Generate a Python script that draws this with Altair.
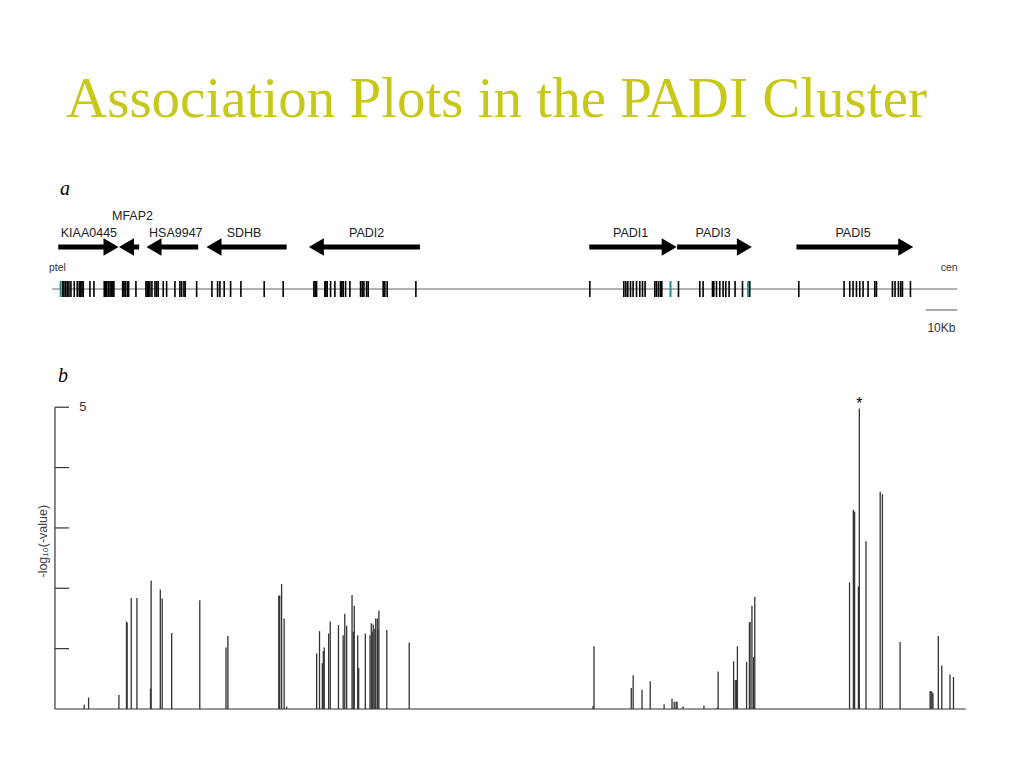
import altair as alt
import pandas as pd

# ---------------- data ----------------
# panel b: association bars (position in kb from ptel, -log10 p-value)
bar_kb = [10.2, 11.6, 21.2, 23.6, 23.8, 25.1, 26.9, 31.2, 31.4, 34.3, 34.9, 37.9, 46.8, 55.1, 55.7,
          71.8, 72.1, 72.7, 73.5, 74.3, 83.8, 84.7, 85.6, 85.9, 86.2, 87.6, 88.1, 90.7, 92.2, 92.7,
          93.3, 95.0, 95.4, 95.7, 96.8, 97.1, 99.2, 100.7, 101.1, 101.4, 101.7, 102.2, 102.5, 103.0,
          103.2, 103.5, 106.0, 113.1,
          171.3, 171.6, 183.4, 184.0, 186.8, 189.4, 193.8, 196.3, 197.0, 197.6, 197.9, 199.8, 206.4,
          210.6, 210.9, 215.8, 216.3, 216.7, 217.0, 219.9, 220.8, 221.0, 221.6, 222.1, 222.5,
          252.5, 253.7, 254.1, 255.3, 255.6, 257.7, 262.2, 262.9, 268.5, 278.0, 278.3, 278.6, 278.9,
          280.6, 281.7, 284.3, 285.4]
bar_val = [0.07, 0.19, 0.23, 1.45, 1.43, 1.84, 1.84, 0.34, 2.13, 1.98, 1.83, 1.26, 1.80, 1.02, 1.21,
           1.88, 1.88, 2.07, 1.50, 0.04, 0.92, 1.29, 0.76, 0.96, 1.02, 1.25, 1.45, 1.39, 1.22, 1.58,
           1.38, 1.89, 1.28, 1.71, 1.22, 0.68, 1.25, 1.22, 1.42, 1.28, 1.40, 1.33, 1.50, 1.50,
           1.32, 1.63, 1.31, 1.10,
           0.05, 1.04, 0.35, 0.56, 0.32, 0.46, 0.08, 0.17, 0.12, 0.12, 0.12, 0.04, 0.06,
           0.02, 0.62, 0.79, 0.48, 0.48, 1.04, 0.78, 1.44, 1.44, 1.71, 0.86, 1.86,
           2.10, 3.30, 3.27, 2.03, 4.98, 2.78, 3.60, 3.56, 1.11, 0.30, 0.30, 0.28, 0.26,
           1.21, 0.72, 0.57, 0.53]
y_ticks = [1, 2, 3, 4, 5]

# panel a: SNP positions (kb)
snp_kb = [3.39, 3.80, 4.34, 4.84, 5.38, 6.01, 7.06, 8.01, 8.64, 9.08, 9.50, 9.91, 12.03, 13.29,
          16.55, 17.0, 17.31, 17.82, 18.36, 18.77, 19.21, 19.62, 22.38, 22.79, 23.2, 23.83, 24.28,
          26.59, 29.75, 30.16, 30.61, 31.02, 31.65, 32.6, 33.14, 33.64, 35.23, 36.3, 38.93, 40.51,
          41.05, 41.78, 42.19, 45.8, 50.64, 52.44, 53.17, 54.53, 56.56, 59.82, 67.19, 73.21,
          82.92, 83.33, 83.78, 86.4, 86.72, 87.13, 88.21, 89.57, 91.37, 91.79, 92.2, 92.96, 94.32,
          97.7, 98.21, 98.75, 99.6, 100.11, 104.86, 105.39, 106.12, 115.21,
          170.28, 181.04, 181.67, 182.3, 183.16, 183.98, 185.06, 186.1, 186.96, 187.78, 190.85,
          191.39, 192.02, 192.65, 193.07, 198.35, 205.09, 206.14, 209.11, 209.52, 210.38, 211.42,
          212.47, 213.32, 214.37, 216.26, 218.61, 220.92, 236.43, 250.76, 252.57, 253.61, 254.69,
          255.73, 256.78, 258.36, 260.48, 261.02, 266.08, 266.9, 267.98, 268.71, 269.25, 271.78]
snp_teal_kb = [2.75, 195.82, 220.38]

# genes: name, start, end (kb), direction (+1 right, -1 left), label position (kb)
gene_name = ["KIAA0445", "MFAP2", "HSA9947", "SDHB", "PADI2", "PADI1", "PADI3", "PADI5"]
gene_start = [2.0, 21.3, 30.0, 49.0, 81.4, 170.1, 197.9, 235.7]
gene_end = [21.0, 27.6, 46.3, 74.3, 116.5, 197.7, 221.5, 272.6]
gene_dir = [1, -1, -1, -1, -1, 1, 1, 1]
gene_label_kb = [11.7, 25.5, 39.2, 60.8, 99.6, 183.2, 209.3, 253.6]
gene_label_row = [10.3, 12.0, 10.3, 10.3, 10.3, 10.3, 10.3, 10.3]

track_start, track_end = 0.0, 286.7
scale_bar = [276.6, 286.6]

TITLE = "Association Plots in the PADI Cluster"

# ---------------- shared settings ----------------
W = 935
xs = alt.Scale(domain=[-6, 290], nice=False, zero=False)
SANS = "Liberation Sans"
SERIF = "Liberation Serif"
HEAD = 2.3  # half arrow-head length in kb

# rows of the gene track (track units)
ROW_ARROW, ROW_SNP, ROW_SNP_TOP, ROW_SNP_BOT = 8.9, 4.7, 5.5, 3.9
ROW_END, ROW_BAR, ROW_BARLAB, ROW_A = 6.85, 2.6, 0.85, 14.7

# ---------------- panel a ----------------
ya = alt.Scale(domain=[0, 16], nice=False, zero=False)
X = lambda f: alt.X(f, scale=xs, axis=None)
YA = lambda f: alt.Y(f, scale=ya, axis=None)

genes = pd.DataFrame({"name": gene_name, "start": gene_start, "end": gene_end, "dir": gene_dir,
                      "lab": gene_label_kb, "row": gene_label_row})
genes["tip"] = [e if d > 0 else s for s, e, d in zip(gene_start, gene_end, gene_dir)]
genes["tail"] = [s if d > 0 else e for s, e, d in zip(gene_start, gene_end, gene_dir)]
genes["head"] = [t - d * HEAD for t, d in zip(genes["tip"], gene_dir)]
genes["shape"] = ["triangle-right" if d > 0 else "triangle-left" for d in gene_dir]
genes["ay"] = ROW_ARROW

base_a = alt.Chart(genes)
arrow_lines = base_a.mark_rule(color="black", strokeWidth=5).encode(
    x=X("tail:Q"), x2="head:Q", y=YA("ay:Q"))
arrow_heads = base_a.mark_point(filled=True, color="black", opacity=1, size=300).encode(
    x=X("head:Q"), y=YA("ay:Q"), shape=alt.Shape("shape:N", scale=None, legend=None))
gene_labels = base_a.mark_text(font=SANS, fontSize=12.5, color="#222", baseline="middle").encode(
    x=X("lab:Q"), y=YA("row:Q"), text="name:N")

snps = pd.DataFrame({"kb": snp_kb, "y0": ROW_SNP_BOT, "y1": ROW_SNP_TOP})
snp_ticks = alt.Chart(snps).mark_rule(color="black", strokeWidth=1.6).encode(
    x=X("kb:Q"), y=YA("y1:Q"), y2="y0:Q")
teal = pd.DataFrame({"kb": snp_teal_kb, "y0": ROW_SNP_BOT, "y1": ROW_SNP_TOP})
teal_ticks = alt.Chart(teal).mark_rule(color="#1f8f8f", strokeWidth=2).encode(
    x=X("kb:Q"), y=YA("y1:Q"), y2="y0:Q")

track = pd.DataFrame({"a": [track_start], "b": [track_end], "y": [ROW_SNP]})
track_line = alt.Chart(track).mark_rule(color="#666", strokeWidth=1).encode(
    x=X("a:Q"), x2="b:Q", y=YA("y:Q"))

sb = pd.DataFrame({"a": [scale_bar[0]], "b": [scale_bar[1]],
                   "m": [(scale_bar[0] + scale_bar[1]) / 2],
                   "y": [ROW_BAR], "ly": [ROW_BARLAB], "t": ["10Kb"]})
sb_line = alt.Chart(sb).mark_rule(color="#555", strokeWidth=1).encode(
    x=X("a:Q"), x2="b:Q", y=YA("y:Q"))
sb_text = alt.Chart(sb).mark_text(font=SANS, fontSize=12, color="#333", baseline="middle").encode(
    x=X("m:Q"), y=YA("ly:Q"), text="t:N")

ptel = alt.Chart(pd.DataFrame({"kb": [-0.95], "y": [ROW_END], "t": ["ptel"]})).mark_text(
    font=SANS, fontSize=10.5, color="#333", align="left", baseline="middle").encode(
    x=X("kb:Q"), y=YA("y:Q"), text="t:N")
cen = alt.Chart(pd.DataFrame({"kb": [286.7], "y": [ROW_END], "t": ["cen"]})).mark_text(
    font=SANS, fontSize=10.5, color="#333", align="right", baseline="middle").encode(
    x=X("kb:Q"), y=YA("y:Q"), text="t:N")

lab_a = alt.Chart(pd.DataFrame({"kb": [4.1], "y": [ROW_A], "t": ["a"]})).mark_text(
    font=SERIF, fontSize=20, fontStyle="italic", color="black", baseline="middle").encode(
    x=X("kb:Q"), y=YA("y:Q"), text="t:N")

panel_a = alt.layer(track_line, snp_ticks, teal_ticks, arrow_lines, arrow_heads, gene_labels,
                    sb_line, sb_text, ptel, cen, lab_a).properties(width=W, height=160)

# ---------------- panel b ----------------
yb = alt.Scale(domain=[0, 5.6], nice=False, zero=True)
YB = lambda f: alt.Y(f, scale=yb, axis=None)

bars = pd.DataFrame({"kb": bar_kb, "v": bar_val, "z": 0.0})
bar_rules = alt.Chart(bars).mark_rule(color="#333", strokeWidth=1.3).encode(
    x=X("kb:Q"), y=YB("z:Q"), y2="v:Q")

axis_df = pd.DataFrame({"x0": [0.95], "x1": [289.3], "z": [0.0], "top": [5.0]})
base_line = alt.Chart(axis_df).mark_rule(color="#333", strokeWidth=1.2).encode(
    x=X("x0:Q"), x2="x1:Q", y=YB("z:Q"))
y_line = alt.Chart(axis_df).mark_rule(color="#333", strokeWidth=1.2).encode(
    x=X("x0:Q"), y=YB("z:Q"), y2="top:Q")

ticks = pd.DataFrame({"v": y_ticks, "x0": 0.95, "x1": 5.4, "lx": 9.8})
tick_rules = alt.Chart(ticks).mark_rule(color="#333", strokeWidth=1.2).encode(
    x=X("x0:Q"), x2="x1:Q", y=YB("v:Q"))
tick_lab = alt.Chart(ticks[ticks.v == 5]).mark_text(font=SANS, fontSize=13, color="#333",
                                                    baseline="middle").encode(
    x=X("lx:Q"), y=YB("v:Q"), text="v:N")

ylab = alt.Chart(pd.DataFrame({"kb": [-2.95], "y": [2.78], "t": ["-log\u2081\u2080(-value)"]})).mark_text(
    font=SANS, fontSize=12.5, color="#444", angle=270, baseline="middle").encode(
    x=X("kb:Q"), y=YB("y:Q"), text="t:N")

star = alt.Chart(pd.DataFrame({"kb": [255.6], "y": [5.05], "t": ["*"]})).mark_text(
    font=SANS, fontSize=16, color="black", baseline="middle").encode(
    x=X("kb:Q"), y=YB("y:Q"), text="t:N")

lab_b = alt.Chart(pd.DataFrame({"kb": [3.5], "y": [5.52], "t": ["b"]})).mark_text(
    font=SERIF, fontSize=20, fontStyle="italic", color="black", baseline="middle").encode(
    x=X("kb:Q"), y=YB("y:Q"), text="t:N")

panel_b = alt.layer(bar_rules, base_line, y_line, tick_rules, tick_lab, ylab, star, lab_b).properties(
    width=W, height=338)

chart = alt.vconcat(panel_a, panel_b, spacing=29).properties(
    title=alt.TitleParams(TITLE, font=SERIF, fontSize=57, fontWeight="normal", color="#C8C81A",
                          anchor="middle", dx=-4, offset=47),
    padding={"left": 25, "top": 63, "right": 0, "bottom": 0},
).configure_view(stroke=None)

chart.save("out.html", embed_options={"renderer": "svg", "actions": False})
